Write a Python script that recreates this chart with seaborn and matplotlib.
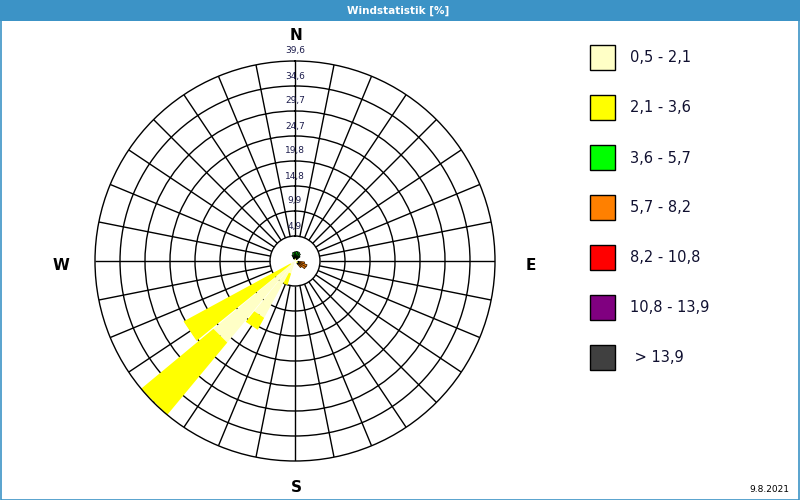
import numpy as np
import matplotlib
matplotlib.use("Agg")
import matplotlib.pyplot as plt
from matplotlib.patches import Rectangle
import matplotlib.transforms as mtransforms
import seaborn as sns

sns.set_theme(style="white")
plt.rcParams['font.family'] = ['DejaVu Sans']

# ---------------- data ----------------
title = "Windstatistik [%]"
date_label = "9.8.2021"

# 32 wind directions (degrees, clockwise from north)
directions_deg = [0.0, 11.25, 22.5, 33.75, 45.0, 56.25, 67.5, 78.75,
                  90.0, 101.25, 112.5, 123.75, 135.0, 146.25, 157.5, 168.75,
                  180.0, 191.25, 202.5, 213.75, 225.0, 236.25, 247.5, 258.75,
                  270.0, 281.25, 292.5, 303.75, 315.0, 326.25, 337.5, 348.75]

# frequency [%] per speed class and direction
class_labels = ["0,5 - 2,1", "2,1 - 3,6", "3,6 - 5,7", "5,7 - 8,2",
                "8,2 - 10,8", "10,8 - 13,9", " > 13,9"]
speed_0_5_2_1 = [0.3, 0.3, 0.3, 0.3, 0.2, 0, 0, 0,
                 0, 0.3, 0.4, 0.4, 0.3, 0, 0, 0,
                 0, 0, 2.6, 12.8, 21.0, 1.0, 0, 0,
                 0, 0, 0, 0, 0, 0, 0.2, 0.3]
speed_2_1_3_6 = [0.3, 0.3, 0.3, 0.3, 0.2, 0, 0, 0,
                 0, 0.3, 0.4, 0.4, 0.3, 0, 0, 0,
                 0, 0, 2.4, 2.7, 18.6, 24.1, 0, 0,
                 0, 0, 0, 0, 0, 0, 0.2, 0.3]
speed_3_6_5_7 = [1.2, 1.3, 1.3, 1.1, 0.9, 0, 0, 0,
                 0, 0.3, 0.3, 0.3, 0.3, 0, 0, 0,
                 0, 0, 0, 0, 0, 0, 0, 0,
                 0, 0, 0, 0, 0, 0, 0.9, 1.1]
speed_5_7_8_2 = [0, 0, 0, 0, 0, 0, 0, 0,
                 0, 1.0, 1.4, 1.3, 0.8, 0, 0, 0,
                 0, 0, 0, 0, 0, 0, 0, 0,
                 0, 0, 0, 0, 0, 0, 0, 0]
speed_8_2_10_8 = [0] * 32
speed_10_8_13_9 = [0] * 32
speed_over_13_9 = [0] * 32

ring_values = [4.95, 9.9, 14.85, 19.8, 24.75, 29.7, 34.65, 39.6]
ring_labels = ["4,9", "9,9", "14,8", "19,8", "24,7", "29,7", "34,6", "39,6"]

# ---------------- styles ----------------
class_colors = ["#FFFFC6", "#FFFF00", "#00FF00", "#FF8000",
                "#FF0000", "#800080", "#404040"]
class_edges = ["none", "none", "black", "#402000", "none", "none", "none"]
blue = "#3C93C6"
W, H = 800, 500

fig = plt.figure(figsize=(8, 5), dpi=100)
fig.patch.set_facecolor("white")

# title bar + border
fig.patches.append(Rectangle((0, 1 - 21 / H), 1, 21 / H, transform=fig.transFigure,
                             facecolor=blue, edgecolor="none", zorder=0))
fig.patches.append(Rectangle((0.5 / W, 0.5 / H), 1 - 1.5 / W, 1 - 1.5 / H,
                             transform=fig.transFigure, fill=False,
                             edgecolor=blue, linewidth=1.2, zorder=5))
fig.text(398 / W, 1 - 10.5 / H, title, color="white", fontsize=7.5,
         fontweight="bold", ha="center", va="center",
         family=["Liberation Sans Narrow", "DejaVu Sans"])

# polar axes
ax = fig.add_axes([95 / W, 39 / H, 400 / W, 400 / H], projection="polar")
ax.set_theta_zero_location("N")
ax.set_theta_direction(-1)
ax.set_ylim(0, ring_values[-1])
ax.set_facecolor("white")
theta = np.deg2rad(directions_deg)
ax.set_xticks(theta)
ax.set_xticklabels([])
ax.set_yticks(ring_values[:-1])
ax.set_yticklabels([])
ax.xaxis.grid(False)
ax.yaxis.grid(True, color="black", linewidth=1.0)
ax.set_axisbelow(True)
ax.spines["polar"].set_color("black")
ax.spines["polar"].set_linewidth(1.0)
ax.vlines(theta, ring_values[0], ring_values[-1], colors="black",
          linewidth=1.0, zorder=0.8)

series = [speed_0_5_2_1, speed_2_1_3_6, speed_3_6_5_7, speed_5_7_8_2,
          speed_8_2_10_8, speed_10_8_13_9, speed_over_13_9]
half_w = np.deg2rad(10.6) / 2
bottom = np.zeros(len(directions_deg))
for vals, col, ec in zip(series, class_colors, class_edges):
    vals = np.asarray(vals, dtype=float)
    for t, b, v in zip(theta, bottom, vals):
        if v <= 0:
            continue
        ax.fill([t - half_w, t + half_w, t + half_w, t - half_w],
                [b, b, b + v, b + v], facecolor=col, edgecolor=ec,
                linewidth=0.6 if ec != "none" else 0, zorder=2)
    bottom = bottom + vals

# ring labels along north spoke
lab_tr = mtransforms.offset_copy(ax.transData, fig=fig, x=0, y=10, units="dots")
for rv, rl in zip(ring_values, ring_labels):
    ax.text(0, rv, rl, transform=lab_tr, ha="center", va="center",
            fontsize=6.5, color="#1C1C4C", zorder=3)

# compass labels
for lab, (px, py) in zip(["N", "E", "S", "W"],
                         [(296, 36), (531, 265), (296, 488), (61, 265)]):
    fig.text(px / W, 1 - py / H, lab, fontsize=11, fontweight="bold",
             ha="center", va="center", color="black")

# legend
for i, (lab, col) in enumerate(zip(class_labels, class_colors)):
    top = 45 + 50 * i
    fig.patches.append(Rectangle((590 / W, 1 - (top + 25) / H), 25 / W, 25 / H,
                                 transform=fig.transFigure, facecolor=col,
                                 edgecolor="black", linewidth=1.0))
    fig.text(630 / W, 1 - (top + 13) / H, lab, fontsize=10.5, ha="left",
             va="center", color="#101030")

fig.text(769 / W, 1 - 489 / H, date_label, fontsize=6.5, ha="center",
         va="center", color="black")

fig.savefig("out.png", dpi=100, facecolor="white")
